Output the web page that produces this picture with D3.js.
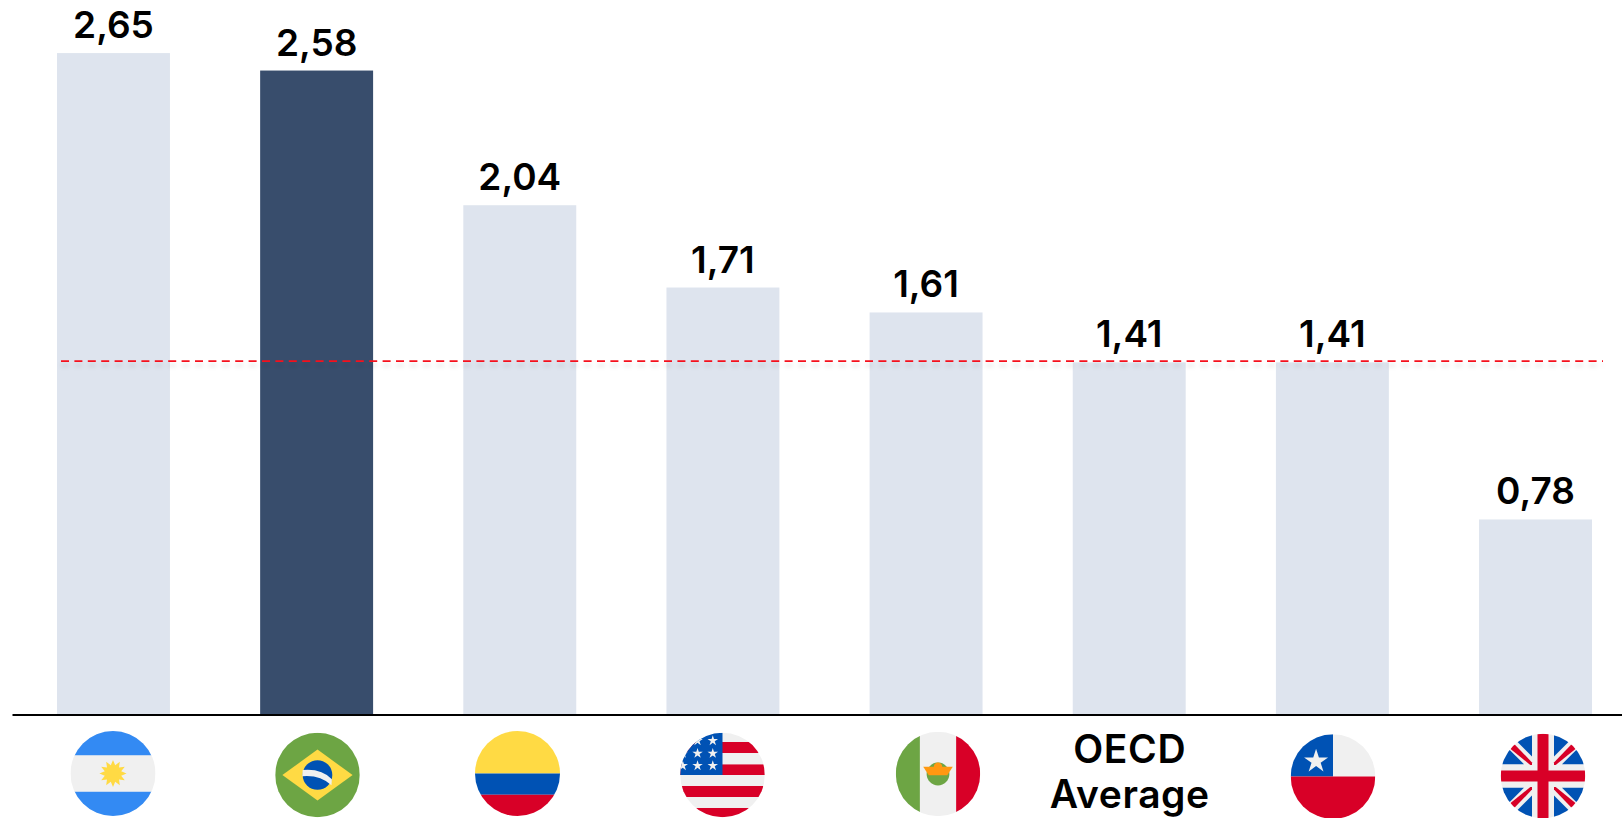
<!DOCTYPE html>
<html><head><meta charset="utf-8">
<script src="https://cdn.jsdelivr.net/npm/d3@7"></script>
<style>html,body{margin:0;padding:0;background:#fff;overflow:hidden}svg{display:block}text{font-family:Inter,"Noto Sans",sans-serif;font-weight:600;fill:#000}</style>
</head><body><svg id="c" width="1622" height="818"></svg>
<script>
const categories = ["Argentina","Brazil","Colombia","USA","Mexico","OECD Average","Chile","UK"];
const values = [2.65,2.58,2.04,1.71,1.61,1.41,1.41,0.78];
const valueLabels = ["2,65","2,58","2,04","1,71","1,61","1,41","1,41","0,78"];
const highlighted = ["Brazil"];
const averageValue = [1.415];
const avgLabelLines = ["OECD","Average"];

const W=1622,H=818,baseY=714,unit=249.4;
const svg=d3.select("#c");
const x=d3.scaleBand().domain(categories).range([57,1592]).paddingInner(0.444).paddingOuter(0);
const y=d3.scaleLinear().domain([0,2.65]).range([baseY,baseY-2.65*unit]);
const defs=svg.append("defs");
defs.append("filter").attr("id","blur")
  .attr("filterUnits","userSpaceOnUse").attr("x",0).attr("y",340).attr("width",W).attr("height",50)
  .append("feGaussianBlur").attr("stdDeviation",2);

svg.selectAll("rect.bar").data(categories).join("rect").attr("class","bar")
  .attr("x",d=>x(d)).attr("width",x.bandwidth())
  .attr("y",(d,i)=>y(values[i])).attr("height",(d,i)=>baseY-y(values[i]))
  .attr("fill",d=>highlighted.includes(d)?"#384d6c":"#dee4ee");

svg.selectAll("text.val").data(categories).join("text").attr("class","val")
  .attr("x",d=>x(d)+x.bandwidth()/2).attr("y",(d,i)=>y(values[i])-15)
  .attr("text-anchor","middle").style("font-size","37px").text((d,i)=>valueLabels[i]);

// average line with soft shadow
const lx0=61,lx1=1603;
svg.append("line").attr("x1",lx0).attr("x2",lx1).attr("y1",y(averageValue[0])+4.5).attr("y2",y(averageValue[0])+4.5)
  .attr("stroke","#000").attr("stroke-opacity",.13).attr("stroke-width",2).attr("stroke-dasharray","8 5.4").attr("filter","url(#blur)");
svg.append("line").attr("x1",lx0).attr("x2",lx1).attr("y1",y(averageValue[0])).attr("y2",y(averageValue[0]))
  .attr("stroke","#f5101c").attr("stroke-width",1.9).attr("stroke-dasharray","8 5.4");

// baseline axis
const axis=d3.axisBottom(d3.scaleLinear().domain([0,1]).range([12,1622])).tickValues([]).tickSizeOuter(0);
const gA=svg.append("g").attr("transform",`translate(0,${baseY+0.5})`).call(axis);
gA.select("path").attr("stroke","#000").attr("stroke-width",2);

// OECD label
svg.selectAll("text.avg").data(avgLabelLines).join("text").attr("class","avg")
  .attr("x",x("OECD Average")+x.bandwidth()/2+0.5).attr("y",(d,i)=>763+i*45)
  .attr("text-anchor","middle").style("font-size","39px").style("letter-spacing","0.6px").text(d=>d);

// flags: drawn in a unit circle coordinate system
const C={blue:"#338af3",white:"#f0f0f0",yellow:"#ffda44",green:"#6da544",navy:"#0052b4",red:"#d80027",orange:"#ff9811"};
function flag(id,cx,cy,r,draw){
  defs.append("clipPath").attr("id","clip-"+id).append("circle").attr("r",1);
  const g=svg.append("g").attr("transform",`translate(${cx},${cy}) scale(${r})`);
  const c=g.append("g").attr("clip-path",`url(#clip-${id})`);
  const R=(x0,y0,x1,y1,f)=>c.append("rect").attr("x",x0).attr("y",y0).attr("width",x1-x0).attr("height",y1-y0).attr("fill",f);
  draw(c,R);
}
const star=(c,px,py,s,f)=>c.append("path").attr("d",d3.symbol(d3.symbolStar,s)()).attr("transform",`translate(${px},${py})`).attr("fill",f);
function burst(n,ro,ri){const p=[];for(let i=0;i<2*n;i++){const a=Math.PI*i/n,q=i%2?ri:ro;p.push([q*Math.sin(a),-q*Math.cos(a)]);}return "M"+p.join("L")+"Z";}

flag("ar",113,773.5,42.5,(c,R)=>{R(-1,-1,1,1,C.white);R(-1,-1,1,-.43,C.blue);R(-1,.43,1,1,C.blue);
  c.append("path").attr("d",burst(12,.32,.2)).attr("fill",C.yellow);});
flag("br",317.5,775,42.3,(c,R)=>{R(-1,-1,1,1,C.green);
  c.append("path").attr("d","M-.83,0L0,-.6L.83,0L0,.6Z").attr("fill",C.yellow);
  c.append("circle").attr("r",.35).attr("fill",C.navy);
  c.append("path").attr("d","M-.35,-.12Q.1,-.16,.34,.1L.33,.24Q.05,-.01,-.36,.03Z").attr("fill",C.white);
  });
flag("co",517.5,773.5,42.5,(c,R)=>{R(-1,-1,1,0,C.yellow);R(-1,0,1,.5,C.navy);R(-1,.5,1,1,C.red);});
flag("us",722.5,775,42.3,(c,R)=>{R(-1,-1,1,1,C.white);
  [[-.78,-.52],[-.25,0],[.26,.52],[.78,1]].forEach(b=>R(-1,b[0],1,b[1],C.red));
  R(-1,-1,0,0,C.navy);
  [-.81,-.51,-.22].forEach(sy=>[-.23,-.59,-.94].forEach(sx=>star(c,sx,sy,.019,C.white)));});
flag("mx",938,774,42.2,(c,R)=>{R(-1,-1,1,1,C.white);R(-1,-1,-.43,1,C.green);R(.43,-1,1,1,C.red);
  c.append("circle").attr("r",.27).attr("fill",C.green);
  c.append("circle").attr("cy",-.17).attr("r",.1).attr("fill",C.orange);
  c.append("path").attr("d","M-.35,-.17L.35,-.17L.22,.03L-.22,.03Z").attr("fill",C.orange);});
flag("cl",1333,776.5,42.3,(c,R)=>{R(-1,-1,1,0,C.white);R(-1,-1,0,0,C.navy);R(-1,0,1,1,C.red);
  star(c,-.4,-.36,.1,C.white);});
flag("gb",1543,776,42.3,(c,R)=>{R(-1,-1,1,1,C.white);
  const tri=d=>c.append("path").attr("d",d).attr("fill",C.navy);
  [[1,1],[1,-1],[-1,1],[-1,-1]].forEach(([a,b])=>{
    tri(`M${a*.26},${b*.46}L${a*.26},${b*1.1}L${a*.9},${b*1.1}Z`);
    tri(`M${a*.45},${b*.28}L${a*1.1},${b*.28}L${a*1.1},${b*.93}Z`);
    c.append("path").attr("d",`M${a*.26},${b*.26}L${a*.3},${b*.26}L${a*.84},${b*.7}L${a*.72},${b*.8}L${a*.26},${b*.32}Z`).attr("fill",C.red);
  });
  R(-.13,-1,.13,1,C.red);R(-1,-.13,1,.13,C.red);});
</script></body></html>
